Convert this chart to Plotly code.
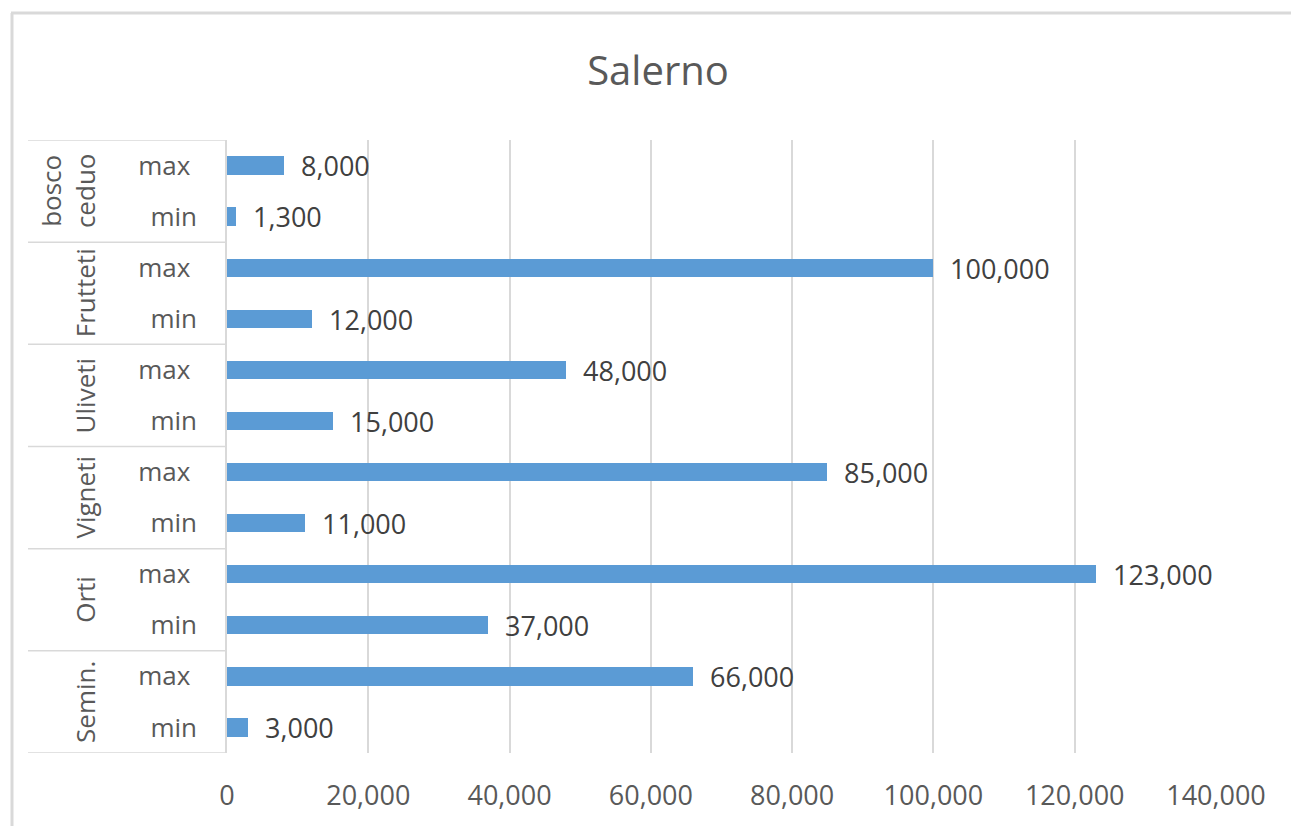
import plotly.graph_objects as go

# ---- data (Excel order: bottom to top) ----
groups = ["Semin.", "Orti", "Vigneti", "Uliveti", "Frutteti", "bosco<br>ceduo"]
sub_labels = ["min", "max"]
min_values = [3000, 37000, 11000, 15000, 12000, 1300]
max_values = [66000, 123000, 85000, 48000, 100000, 8000]
x_ticks = [0, 20000, 40000, 60000, 80000, 100000, 120000, 140000]
title_text = "Salerno"

# build flat category rows
row_labels, row_values = [], []
for g, mn, mx in zip(groups, min_values, max_values):
    row_labels += ["min", "max\u00a0"]
    row_values += [mn, mx]
row_pos = list(range(len(row_values)))

BLUE = "#5B9BD5"
GRID = "#D9D9D9"
TXT = "#595959"
FONT = "Open Sans"

W, H = 1291, 826
L, R, T, B = 227, 75, 140, 73
plot_w = W - L - R

def px_to_paper_x(px):
    return (px - L) / plot_w

fig = go.Figure()
fig.add_trace(go.Bar(
    x=row_values, y=row_pos, orientation="h",
    width=0.36,
    marker=dict(color=BLUE, line=dict(width=0)),
    text=["\u00a0\u00a0" + f"{v:,}" for v in row_values],
    textposition="outside",
    constraintext="none",
    cliponaxis=False,
    textfont=dict(family=FONT, size=27, color="#404040"),
    hoverinfo="skip",
))

shapes = []
# group separators in category area
n_groups = len(groups)
for k in range(n_groups + 1):
    yb = -0.5 + 2 * k
    shapes.append(dict(type="line", xref="paper", yref="y",
                       x0=px_to_paper_x(28), x1=0, y0=yb, y1=yb,
                       line=dict(color=GRID, width=1.5)))
# chart outer border (top and left visible)
ytop = 1 + (T - 13) / (H - T - B)
shapes.append(dict(type="line", xref="paper", yref="paper",
                   x0=px_to_paper_x(11), x1=px_to_paper_x(1300),
                   y0=ytop, y1=ytop,
                   line=dict(color=GRID, width=3)))
shapes.append(dict(type="line", xref="paper", yref="paper",
                   x0=px_to_paper_x(12), x1=px_to_paper_x(12),
                   y0=ytop, y1=-(B + 10) / (H - T - B),
                   line=dict(color=GRID, width=3)))

annotations = []
for i, g in enumerate(groups):
    annotations.append(dict(
        text=g, xref="paper", yref="y",
        x=px_to_paper_x(105), y=2 * i + 0.5,
        xanchor="right", yanchor="middle",
        textangle=-90, showarrow=False,
        font=dict(family=FONT, size=26, color=TXT),
    ))

fig.update_layout(
    width=W, height=H,
    margin=dict(l=L, r=R, t=T, b=B),
    paper_bgcolor="white", plot_bgcolor="white",
    showlegend=False,
    bargap=0,
    title=dict(text=title_text, x=0.5 + (658 - W / 2) / W, xanchor="center",
               y=1 - 71 / H, yanchor="middle",
               font=dict(family=FONT, size=40, color=TXT)),
    xaxis=dict(range=[0, 140000], tickvals=x_ticks,
               ticktext=[f"{v:,}" for v in x_ticks],
               showgrid=True, gridcolor=GRID, gridwidth=1.5,
               zeroline=False, showline=False, ticks="",
               ticklabelstandoff=24,
               tickfont=dict(family=FONT, size=27, color=TXT)),
    yaxis=dict(range=[-0.5, 11.5], tickvals=row_pos, ticktext=row_labels,
               showgrid=False, zeroline=False,
               showline=True, linecolor=GRID, linewidth=1.5,
               ticks="", ticklabelstandoff=23,
               tickfont=dict(family=FONT, size=26, color=TXT)),
    shapes=shapes,
    annotations=annotations,
)

fig.write_html("out.html",
               config={"displayModeBar": False},
               post_script="document.body.style.margin='0';document.body.style.overflow='hidden';")
